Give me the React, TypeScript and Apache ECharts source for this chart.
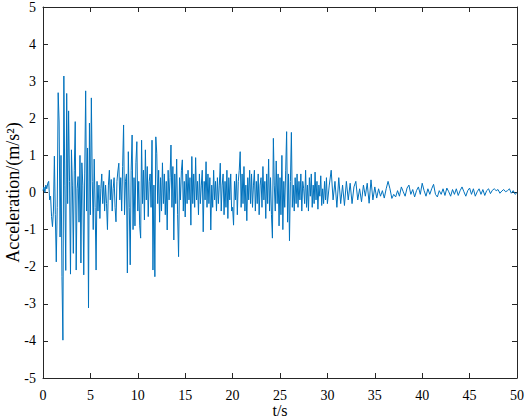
import React, { useEffect, useRef } from "react";
import * as echarts from "echarts";

// Acceleration samples (m/s^2)
// 0.0 s – 9.9 s, step 0.1 s
const accel0to10 = [
  0.05, 0.15, 0.0, 0.2, 0.1, 0.25, 0.3, -0.2, -0.1, -0.65,
  -0.92, -0.5, 0.98, -0.6, -1.87, -0.4, 2.69, 1.9, -1.2, 1.0,
  -2.27, -3.98, 3.14, 0.2, -2.1, 2.67, -0.3, 2.2, 0.3, -2.2,
  1.15, 0.2, -1.64, 0.6, 1.91, -2.09, 0.1, 0.43, -0.8, 1.0,
  -1.9, 0.8, 0.2, -2.22, 0.5, 2.74, -0.5, 1.2, -3.11, 1.87,
  -0.6, 2.55, 0.3, -1.0, 0.9, -0.4, -2.09, 0.3, -0.5, 0.2,
  -0.7, 0.1, 0.5, -0.3, 0.3, -0.5, 0.2, -0.3, -1.0, 0.2,
  0.6, -0.2, 0.35, -0.5, 0.1, 0.4, -0.4, -0.79, 0.3, 0.58,
  0.79, -0.2, 0.4, -0.5, 0.7, 1.82, -0.6, 0.3, 0.5, -2.17,
  1.1, -0.4, -1.95, 0.6, 1.55, -1.0, 0.4, -0.9, 0.8, 1.37,
];
// 10.0 s – 19.9 s, step 0.1 s
const accel10to20 = [
  -0.5, 0.3, -0.9, -1.23, 1.41, -0.3, 0.6, -0.74, 1.15, -0.2,
  0.7, -0.65, 0.3, 0.5, -0.4, 1.41, -2.09, 0.2, -2.27, 1.5,
  1.06, -0.3, 0.6, -0.8, 0.4, -0.5, 0.8, -0.3, 0.5, -0.6,
  0.3, -1.01, 0.6, -0.2, 0.4, 1.28, -0.4, 0.7, -1.28, 0.5,
  -0.3, 0.9, -0.6, -1.73, 0.4, -0.2, 0.6, 0.88, -0.5, 0.3,
  -0.66, 0.5, -0.3, 0.6, -0.2, 0.4, -0.88, 0.97, -0.3, 0.5,
  -0.4, 0.94, -0.2, 0.3, -0.6, 0.5, -0.3, 0.2, 0.6, -1.06,
  0.3, -0.2, 0.83, -0.4, 0.5, -0.3, 0.4, -1.01, 0.2, -0.4,
  0.6, -0.2, 0.3, -0.5, 0.4, -0.3, 0.2, 0.79, -0.5, 0.2,
  0.5, -0.6, 0.3, -0.4, 0.6, -0.7, 0.4, -0.2, 0.5, -0.5,
];
// 20.0 s – 29.9 s, step 0.1 s
const accel20to30 = [
  -0.4, -0.88, 0.3, -0.2, 0.5, -0.6, 0.3, 0.6, 1.1, -0.4,
  0.5, -0.3, 0.7, -0.5, 0.2, -0.76, 0.4, -0.2, 0.6, -0.3,
  0.5, -0.4, 0.2, 0.6, -0.5, 0.3, -0.3, 0.5, -0.6, 0.2,
  0.4, -0.4, 0.7, -0.2, 0.3, -0.7, 0.5, -0.3, 0.9, -0.5,
  0.4, -0.6, -1.23, 1.46, 0.2, -0.5, 0.85, -0.3, 0.5, -0.9,
  0.4, -0.6, 1.0, -1.0, 0.3, -0.4, 0.6, 1.64, -0.8, 0.5,
  -1.3, 0.3, 1.62, -0.4, 0.2, -0.5, 0.4, -0.3, 0.5, -0.4,
  0.3, -0.2, 0.5, -0.5, 0.3, 0.1, -0.3, 0.6, -0.4, 0.2,
  -0.5, 0.4, -0.1, 0.5, -0.4, 0.2, -0.3, 0.55, -0.2, 0.3,
  -0.45, 0.2, -0.1, 0.45, -0.35, 0.1, -0.3, 0.3, -0.2, 0.4,
];
// 30.0 s – 50.0 s, step 0.2 s
const accel30to50 = [
  -0.3, 0.2, 0.6, -0.2, 0.3, -0.4, 0.4, -0.3, 0.2, -0.35,
  0.3, -0.2, 0.25, -0.3, 0.15, 0.3, -0.2, 0.1, -0.25, 0.2,
  -0.1, 0.25, -0.29, 0.34, -0.2, 0.15, -0.15, 0.1, -0.1, 0.05,
  -0.15, 0.1, 0.3, 0.1, -0.16, -0.05, -0.12, 0.05, -0.1, 0.15,
  0.02, -0.1, 0.12, 0.2, -0.05, 0.08, -0.12, 0.05, 0.15, -0.05,
  0.25, 0.05, -0.1, 0.1, -0.05, 0.1, 0.22, -0.05, -0.12, 0.05,
  -0.05, 0.1, -0.08, 0.12, 0.02, -0.1, 0.08, -0.05, 0.1, -0.08,
  0.05, 0.15, 0.02, -0.1, 0.05, 0.12, -0.05, 0.1, -0.1, 0.02,
  0.1, -0.05, 0.08, -0.08, 0.05, 0.1, -0.03, 0.06, 0.1, 0.05,
  0.08, -0.02, 0.04, 0.08, 0.02, 0.05, 0.1, -0.02, 0.05, -0.05,
  0.0,
];

const segments: { start: number; step: number; values: number[] }[] = [
  { start: 0, step: 0.1, values: accel0to10 },
  { start: 10, step: 0.1, values: accel10to20 },
  { start: 20, step: 0.1, values: accel20to30 },
  { start: 30, step: 0.2, values: accel30to50 },
];

const xTicks = [0, 5, 10, 15, 20, 25, 30, 35, 40, 45, 50];
const yTicks = [-5, -4, -3, -2, -1, 0, 1, 2, 3, 4, 5];

const FONT = "'Liberation Serif', 'Times New Roman', serif";
const AXIS_COLOR = "#262626";

export default function App() {
  const ref = useRef<HTMLDivElement>(null);

  useEffect(() => {
    if (!ref.current) return;
    const chart = echarts.init(ref.current, undefined, { renderer: "svg" });

    const data: [number, number][] = [];
    segments.forEach((seg) => {
      seg.values.forEach((v, i) => {
        data.push([+(seg.start + i * seg.step).toFixed(2), v]);
      });
    });

    const xMin = xTicks[0];
    const xMax = xTicks[xTicks.length - 1];
    const yMin = yTicks[0];
    const yMax = yTicks[yTicks.length - 1];

    const baseLine = { show: true, onZero: false, lineStyle: { color: AXIS_COLOR, width: 1 } };
    const baseTick = { show: true, inside: true, length: 5, lineStyle: { color: AXIS_COLOR, width: 1 } };

    chart.setOption({
      animation: false,
      backgroundColor: "#ffffff",
      grid: {
        left: 43,
        right: 9,
        top: 7,
        bottom: 42,
        containLabel: false,
        outerBoundsMode: "none",
      },
      xAxis: [
        {
          type: "value",
          min: xMin,
          max: xMax,
          interval: 5,
          name: "t/s",
          nameLocation: "middle",
          nameGap: 24,
          nameMoveOverlap: false,
          nameTextStyle: { fontFamily: FONT, fontSize: 16, color: "#000" },
          axisLine: baseLine,
          axisTick: baseTick,
          splitLine: { show: false },
          axisLabel: { fontFamily: FONT, fontSize: 14, color: "#000", margin: 10 },
        },
        {
          type: "value",
          position: "top",
          min: xMin,
          max: xMax,
          interval: 5,
          axisLine: baseLine,
          axisTick: baseTick,
          splitLine: { show: false },
          axisLabel: { show: false },
        },
      ],
      yAxis: [
        {
          type: "value",
          min: yMin,
          max: yMax,
          interval: 1,
          name: "Acceleration/(m/s²)",
          nameLocation: "middle",
          nameGap: 21,
          nameMoveOverlap: false,
          nameTextStyle: { fontFamily: FONT, fontSize: 18, color: "#000" },
          axisLine: baseLine,
          axisTick: baseTick,
          splitLine: { show: false },
          axisLabel: { fontFamily: FONT, fontSize: 14, color: "#000", margin: 7 },
        },
        {
          type: "value",
          position: "right",
          min: yMin,
          max: yMax,
          interval: 1,
          axisLine: baseLine,
          axisTick: baseTick,
          splitLine: { show: false },
          axisLabel: { show: false },
        },
      ],
      series: [
        {
          type: "line",
          xAxisIndex: 0,
          yAxisIndex: 0,
          data,
          showSymbol: false,
          symbol: "none",
          lineStyle: { color: "#0072BD", width: 1 },
        },
      ],
    });

    return () => chart.dispose();
  }, []);

  return (
    <div
      ref={ref}
      style={{ position: "fixed", left: 0, top: 0, width: 526, height: 420 }}
    />
  );
}
